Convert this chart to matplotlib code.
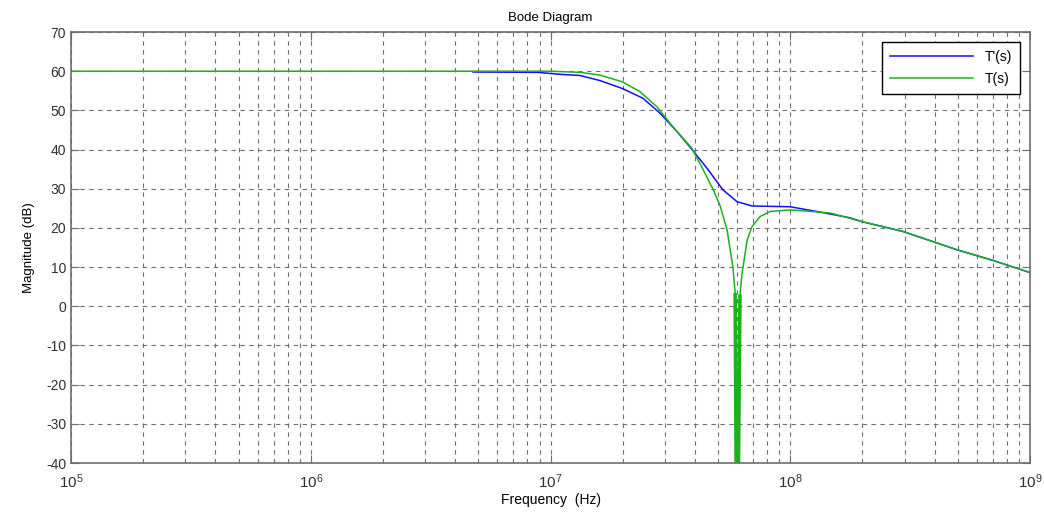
import matplotlib.pyplot as plt
from matplotlib.ticker import LogLocator, MultipleLocator, NullFormatter, FuncFormatter
import numpy as np

plt.rcParams['font.family'] = ['Liberation Sans', 'DejaVu Sans']
plt.rcParams['mathtext.fontset'] = 'custom'
plt.rcParams['mathtext.rm'] = 'Liberation Sans'
plt.rcParams['mathtext.it'] = 'Liberation Sans'
plt.rcParams['axes.unicode_minus'] = False

# T(s): green curve, frequency in Hz and magnitude in dB
f_t = [1e5, 1e6, 1e7, 1.33e7, 1.61e7, 1.99e7, 2.36e7, 2.78e7, 3.24e7, 3.89e7,
       4.32e7, 4.76e7, 5.09e7, 5.45e7, 5.77e7, 5.89e7, 6.0e7, 6.0e7, 6.17e7,
       6.30e7, 6.61e7, 6.92e7, 7.48e7, 8.24e7, 1e8, 1.17e8, 1.47e8, 1.99e8,
       2.95e8, 3.94e8, 4.97e8, 6.93e8, 1e9]
mag_t = [60, 60, 60, 59.7, 59.0, 57.3, 54.8, 50.9, 45.8, 40.3,
         35.0, 29.9, 25.8, 19.5, 9.8, 3.4, -80, -80, 3.0,
         8.5, 16.9, 20.3, 22.9, 24.2, 24.6, 24.3, 23.8, 21.6,
         19.1, 16.5, 14.4, 11.8, 8.6]

# T'(s): blue curve
f_tp = [4.75e6, 8.87e6, 1.10e7, 1.33e7, 1.61e7, 1.99e7, 2.43e7, 2.86e7, 3.37e7,
        3.93e7, 4.50e7, 5.24e7, 6.0e7, 6.92e7, 1e8, 1.29e8, 1.77e8,
        1.99e8, 2.95e8, 3.94e8, 4.97e8, 6.93e8, 1e9]
mag_tp = [59.8, 59.7, 59.2, 58.9, 57.6, 55.6, 53.1, 49.3, 44.6,
          39.7, 35.2, 29.7, 26.7, 25.6, 25.4, 24.2, 22.6,
          21.6, 19.1, 16.5, 14.4, 11.8, 8.6]

axis_gray = '#6e6e6e'
green = '#1fb01f'

fig = plt.figure(figsize=(10.44, 5.14), dpi=100)
ax = fig.add_axes([0.068, 0.0992, 0.9186, 0.8385])

ax.semilogx(f_tp, mag_tp, color='#1010ff', lw=1.1, label="T'(s)")
ax.semilogx(f_t, mag_t, color=green, lw=1.1, label='T(s)')
# the notch itself is drawn heavier
ax.semilogx(f_t[15:19], mag_t[15:19], color=green, lw=2.6, solid_capstyle='butt')

ax.set_xlim(1e5, 1e9)
ax.set_ylim(-40, 70)
ax.yaxis.set_major_locator(MultipleLocator(10))
ax.xaxis.set_major_locator(LogLocator(base=10))
ax.xaxis.set_major_formatter(FuncFormatter(lambda v, p: r'$10^{%d}$' % round(np.log10(v))))
ax.xaxis.set_minor_locator(LogLocator(base=10, subs=np.arange(2, 10)))
ax.xaxis.set_minor_formatter(NullFormatter())

ax.grid(True, which='both', axis='x', color='#707070', lw=0.8, ls=(0, (4, 4)))
ax.grid(True, which='major', axis='y', color='#707070', lw=0.8, ls=(0, (4, 4)))

for s in ax.spines.values():
    s.set_color(axis_gray)
    s.set_linewidth(1.2)
ax.tick_params(which='both', direction='in', top=True, right=True,
               colors=axis_gray, labelcolor='#303030', labelsize=10)
ax.tick_params(which='major', length=6)
ax.tick_params(which='minor', length=3)
ax.tick_params(axis='x', pad=7, labelsize=11)

ax.set_title('Bode Diagram', fontsize=9.5, pad=8)
ax.set_xlabel('Frequency  (Hz)', fontsize=10, labelpad=1)
ax.set_ylabel('Magnitude (dB)', fontsize=9.5, labelpad=8)

leg = ax.legend(loc='upper right', fontsize=10, fancybox=False, framealpha=1,
                edgecolor='black', borderpad=0.6, handlelength=6.0,
                borderaxespad=0.7, labelspacing=0.55, handletextpad=0.8)
leg.get_frame().set_linewidth(1.0)

fig.savefig('out.png', dpi=100)
